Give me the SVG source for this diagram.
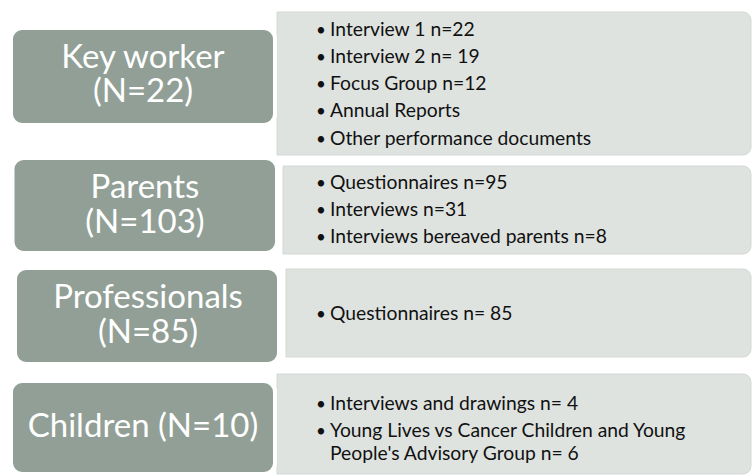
<svg xmlns="http://www.w3.org/2000/svg" width="752" height="475" viewBox="0 0 752 475">
  <style>
    .detail { fill: #dfe3e0; stroke: #d4d9d5; stroke-width: 1; }
    .group  { fill: #919f96; stroke: #ffffff; stroke-width: 4; }
    .title  { font-family: Lato, "Liberation Sans", sans-serif; font-size: 33px; fill: #ffffff; text-anchor: middle; }
    .item   { font-family: Lato, "Liberation Sans", sans-serif; font-size: 19.3px; fill: #111111; }
    .dot    { font-family: Lato, "Liberation Sans", sans-serif; font-size: 17px; fill: #111111; }
  </style>

  <!-- light panels with the data sources, rounded on the right side -->
  <g id="detail-keyworker">
    <path class="detail" d="M277,12 H743 A8,8 0 0 1 751,20 V147 A8,8 0 0 1 743,155 H277 Z"/>
    <text class="dot" x="316" y="35.7">•</text><text class="item" x="330" y="35.7">Interview 1 n=22</text>
    <text class="dot" x="316" y="62.7">•</text><text class="item" x="330" y="62.7">Interview 2 n= 19</text>
    <text class="dot" x="316" y="90">•</text><text class="item" x="330" y="90">Focus Group n=12</text>
    <text class="dot" x="316" y="117.3">•</text><text class="item" x="330" y="117.3">Annual Reports</text>
    <text class="dot" x="316" y="144.5">•</text><text class="item" x="330" y="144.5">Other performance documents</text>
  </g>

  <g id="detail-parents">
    <path class="detail" d="M283,166 H743 A8,8 0 0 1 751,174 V246 A8,8 0 0 1 743,254 H283 Z"/>
    <text class="dot" x="316" y="189">•</text><text class="item" x="330" y="189">Questionnaires n=95</text>
    <text class="dot" x="316" y="216">•</text><text class="item" x="330" y="216">Interviews n=31</text>
    <text class="dot" x="316" y="243">•</text><text class="item" x="330" y="243">Interviews bereaved parents n=8</text>
  </g>

  <g id="detail-professionals">
    <path class="detail" d="M286,269 H743 A8,8 0 0 1 751,277 V349 A8,8 0 0 1 743,357 H286 Z"/>
    <text class="dot" x="316" y="320">•</text><text class="item" x="330" y="320">Questionnaires n= 85</text>
  </g>

  <g id="detail-children">
    <path class="detail" d="M277,374 H743 A8,8 0 0 1 751,382 V466 A8,8 0 0 1 743,474 H277 Z"/>
    <text class="dot" x="316" y="409.5">•</text><text class="item" x="330" y="409.5">Interviews and drawings n= 4</text>
    <text class="dot" x="316" y="437">•</text><text class="item" x="330" y="437"><tspan x="330" y="437">Young Lives vs Cancer Children and Young</tspan><tspan x="330" y="459.5">People's Advisory Group n= 6</tspan></text>
  </g>

  <!-- participant groups -->
  <g id="group-keyworker">
    <rect class="group" x="11" y="28" width="264" height="97" rx="11"/>
    <text class="title"><tspan x="143" y="67.7">Key worker</tspan><tspan x="143" y="101.7">(N=22)</tspan></text>
  </g>

  <g id="group-parents">
    <rect class="group" x="12.5" y="158" width="264.5" height="95" rx="11"/>
    <text class="title"><tspan x="145" y="198">Parents</tspan><tspan x="145" y="233">(N=103)</tspan></text>
  </g>

  <g id="group-professionals">
    <rect class="group" x="15" y="268" width="264" height="96" rx="11"/>
    <text class="title"><tspan x="148" y="308">Professionals</tspan><tspan x="148" y="343">(N=85)</tspan></text>
  </g>

  <g id="group-children">
    <rect class="group" x="11" y="381" width="264" height="93" rx="11"/>
    <text class="title" x="143" y="437">Children (N=10)</text>
  </g>

  <g id="connectors"/>
</svg>
